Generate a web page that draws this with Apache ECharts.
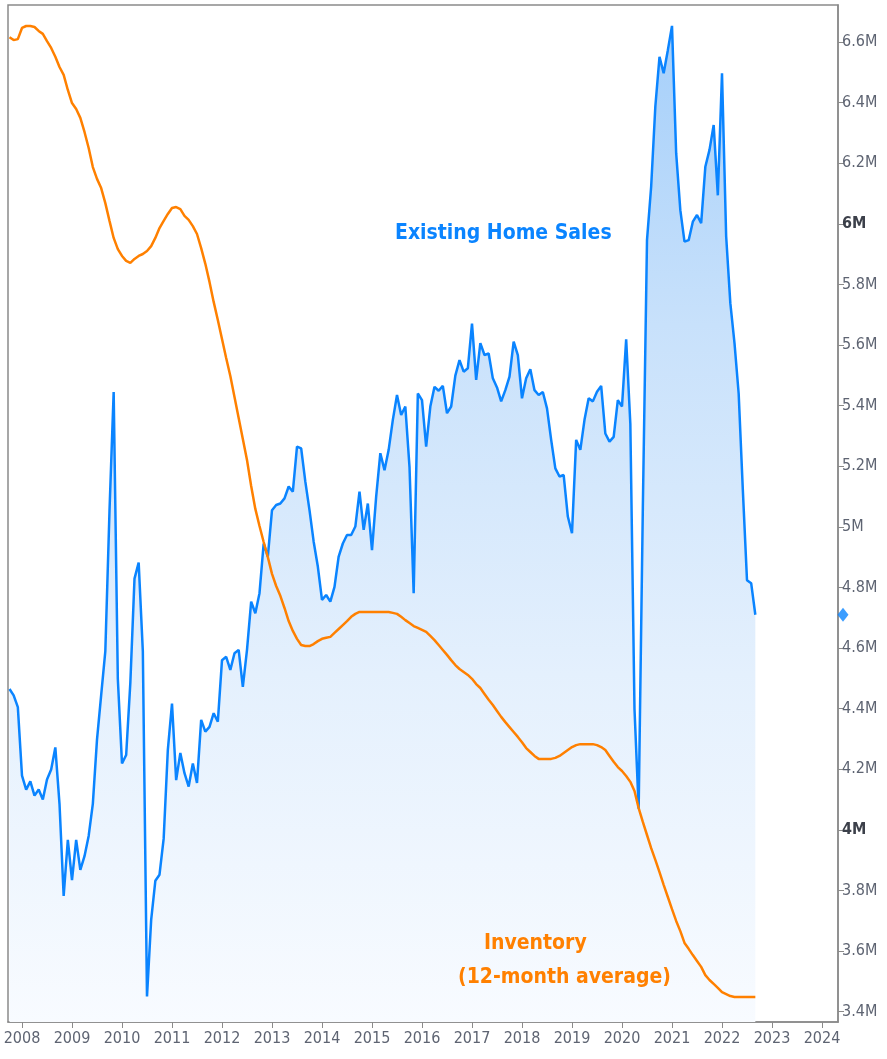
<!DOCTYPE html>
<html>
<head>
<meta charset="utf-8">
<script src="https://cdn.jsdelivr.net/npm/echarts@6/dist/echarts.min.js"></script>
<style>
html,body{margin:0;padding:0;background:#fff;}
#chart{width:887px;height:1059px;}
</style>
</head>
<body>
<div id="chart"></div>
<script>
// ---- DATA ----
const startYear = 2007;
const startMonth = 10; // first observation: Oct 2007, monthly
// Existing home sales (SAAR, millions)
const salesValues = [
  4.465,4.444,4.405,
  4.179,4.133,4.160,4.113,4.133,4.100,4.166,4.199,4.272,4.086,3.782,3.967,
  3.834,3.967,3.868,3.913,3.980,4.086,4.298,4.445,4.590,5.053,5.445,4.498,
  4.219,4.247,4.485,4.829,4.882,4.590,3.450,3.703,3.832,3.852,3.971,4.264,
  4.417,4.164,4.254,4.187,4.143,4.219,4.155,4.363,4.324,4.340,4.385,4.357,
  4.560,4.571,4.528,4.583,4.594,4.472,4.594,4.753,4.715,4.781,4.945,4.902,
  5.055,5.072,5.077,5.094,5.133,5.116,5.265,5.259,5.149,5.055,4.951,4.869,
  4.759,4.775,4.753,4.802,4.902,4.945,4.973,4.973,5.001,5.116,4.990,5.077,
  4.923,5.100,5.243,5.187,5.254,5.353,5.435,5.369,5.397,5.198,4.781,5.440,
  5.418,5.265,5.397,5.462,5.449,5.465,5.375,5.397,5.499,5.550,5.512,5.523,
  5.671,5.485,5.606,5.567,5.572,5.490,5.460,5.414,5.451,5.496,5.611,5.567,
  5.424,5.490,5.520,5.451,5.435,5.445,5.391,5.287,5.193,5.166,5.171,5.034,
  4.979,5.287,5.254,5.353,5.424,5.414,5.446,5.465,5.308,5.281,5.297,5.418,
  5.397,5.619,5.340,4.398,4.070,5.062,5.946,6.123,6.387,6.551,6.497,6.573,
  6.653,6.233,6.045,5.941,5.946,6.007,6.029,6.002,6.188,6.244,6.326,6.094,
  6.497,5.958,5.738,5.606,5.440,5.122,4.824,4.814,4.710
];
// Inventory, 12-month average (millions, read against a hidden scale)
const inventoryValues = [
  3.902,3.893,3.896,
  3.930,3.936,3.936,3.933,3.921,3.912,3.890,3.869,3.842,3.811,3.787,3.741,
  3.701,3.683,3.656,3.613,3.564,3.506,3.470,3.442,3.396,3.342,3.290,3.256,
  3.235,3.220,3.214,3.226,3.235,3.241,3.250,3.265,3.290,3.320,3.342,3.363,
  3.381,3.384,3.378,3.357,3.345,3.326,3.302,3.259,3.211,3.156,3.095,3.040,
  2.982,2.924,2.869,2.805,2.741,2.677,2.613,2.534,2.464,2.412,2.363,2.317,
  2.266,2.229,2.199,2.162,2.122,2.092,2.068,2.049,2.046,2.046,2.052,2.061,
  2.068,2.071,2.074,2.086,2.098,2.110,2.122,2.135,2.144,2.150,2.150,2.150,
  2.150,2.150,2.150,2.150,2.150,2.147,2.144,2.135,2.125,2.116,2.107,2.101,
  2.095,2.089,2.077,2.064,2.049,2.034,2.019,2.003,1.988,1.976,1.967,1.958,
  1.946,1.930,1.918,1.900,1.882,1.866,1.848,1.830,1.814,1.799,1.784,1.769,
  1.753,1.735,1.723,1.711,1.702,1.702,1.702,1.702,1.705,1.711,1.720,1.729,
  1.738,1.744,1.747,1.747,1.747,1.747,1.744,1.738,1.729,1.711,1.693,1.677,
  1.665,1.650,1.632,1.604,1.552,1.510,1.470,1.430,1.394,1.357,1.318,1.281,
  1.244,1.208,1.177,1.141,1.123,1.104,1.086,1.068,1.043,1.028,1.016,1.004,
  0.991,0.985,0.979,0.976,0.976,0.976,0.976,0.976,0.976
];
const yearTicks = [2008,2009,2010,2011,2012,2013,2014,2015,2016,2017,2018,2019,2020,2021,2022,2023,2024];
const yTickValues = [3.4,3.6,3.8,4.0,4.2,4.4,4.6,4.8,5.0,5.2,5.4,5.6,5.8,6.0,6.2,6.4,6.6];
const yTickLabels = ['3.4M','3.6M','3.8M','4M','4.2M','4.4M','4.6M','4.8M','5M','5.2M','5.4M','5.6M','5.8M','6M','6.2M','6.4M','6.6M'];
const boldTicks = ['4M','6M'];
const salesTitle = 'Existing Home Sales';
const inventoryTitle1 = 'Inventory';
const inventoryTitle2 = '(12-month average)';

// ---- BUILD ----
function monthPos(i){
  const m0 = (startMonth - 1) + i;
  return startYear + Math.floor(m0/12) + (m0 % 12)/12;
}
const salesData = salesValues.map((v,i)=>[monthPos(i), v]);
const invData = inventoryValues.map((v,i)=>[monthPos(i), v]);
const X_MIN = 2007.72, X_MAX = 2024.32;

const FONT = '"DejaVu Sans Condensed","Liberation Sans Narrow","DejaVu Sans",sans-serif';
const BLUE = '#0a84ff';
const ORANGE = '#ff8000';
const AXIS_GRAY = '#8a8a8a';
const LABEL_GRAY = '#5e6472';

const chart = echarts.init(document.getElementById('chart'), null, {renderer:'canvas'});
chart.setOption({
  animation:false,
  backgroundColor:'#ffffff',
  grid:{left:8,right:49,top:5,bottom:37,show:true,borderColor:AXIS_GRAY,borderWidth:1.5,containLabel:false},
  xAxis:{
    type:'value', min:X_MIN, max:X_MAX,
    axisLine:{show:true,lineStyle:{color:AXIS_GRAY,width:1.5}},
    axisTick:{show:true,customValues:yearTicks,length:6,lineStyle:{color:AXIS_GRAY}},
    axisLabel:{customValues:yearTicks,formatter:v=>String(Math.round(v)),color:LABEL_GRAY,fontFamily:FONT,fontSize:16,margin:9},
    splitLine:{show:false}
  },
  yAxis:[{
    type:'value', position:'right', min:3.366, max:6.722,
    axisLine:{show:true,lineStyle:{color:AXIS_GRAY,width:1.5}},
    axisTick:{show:true,customValues:yTickValues,length:6,lineStyle:{color:AXIS_GRAY}},
    axisLabel:{
      customValues:yTickValues,
      color:LABEL_GRAY,fontFamily:FONT,fontSize:16,margin:4,
      formatter:function(v){
        let idx = yTickValues.findIndex(t=>Math.abs(t-v)<1e-6);
        const s = idx>=0 ? yTickLabels[idx] : '';
        return boldTicks.indexOf(s)>=0 ? '{b|'+s+'}' : s;
      },
      rich:{b:{fontWeight:'bold',color:'#3c404a',fontFamily:FONT,fontSize:16}}
    },
    splitLine:{show:false}
  },{
    type:'value', show:false, min:0.9, max:4.0, splitLine:{show:false}
  }],
  series:[{
    name:salesTitle,
    type:'line', data:salesData, showSymbol:false, symbol:'none',
    lineStyle:{color:BLUE,width:2.5},
    areaStyle:{
      origin:'start', opacity:1,
      color:new echarts.graphic.LinearGradient(0,0,0,1,[
        {offset:0,color:'rgb(165,207,250)'},
        {offset:0.3,color:'rgb(200,225,251)'},
        {offset:0.65,color:'rgb(228,240,253)'},
        {offset:1,color:'rgb(248,251,255)'}
      ])
    },
    z:3, silent:true
  },{
    name:'Inventory',
    type:'line', yAxisIndex:1, data:invData, showSymbol:false, symbol:'none',
    lineStyle:{color:ORANGE,width:2.5},
    z:4, silent:true
  },{
    name:'last',
    type:'scatter', data:[[X_MAX, salesValues[salesValues.length-1]]],
    symbol:'diamond', symbolSize:[11,14], symbolOffset:[5,0],
    itemStyle:{color:BLUE}, clip:false, z:6, silent:true
  }],
  graphic:[{
    type:'text', left:395, top:223, z:100,
    style:{text:salesTitle,fill:BLUE,font:'bold 21px '+FONT}
  },{
    type:'text', left:484, top:933, z:100,
    style:{text:inventoryTitle1,fill:ORANGE,font:'bold 21px '+FONT}
  },{
    type:'text', left:458, top:967, z:100,
    style:{text:inventoryTitle2,fill:ORANGE,font:'bold 21px '+FONT}
  }]
});
</script>
</body>
</html>
